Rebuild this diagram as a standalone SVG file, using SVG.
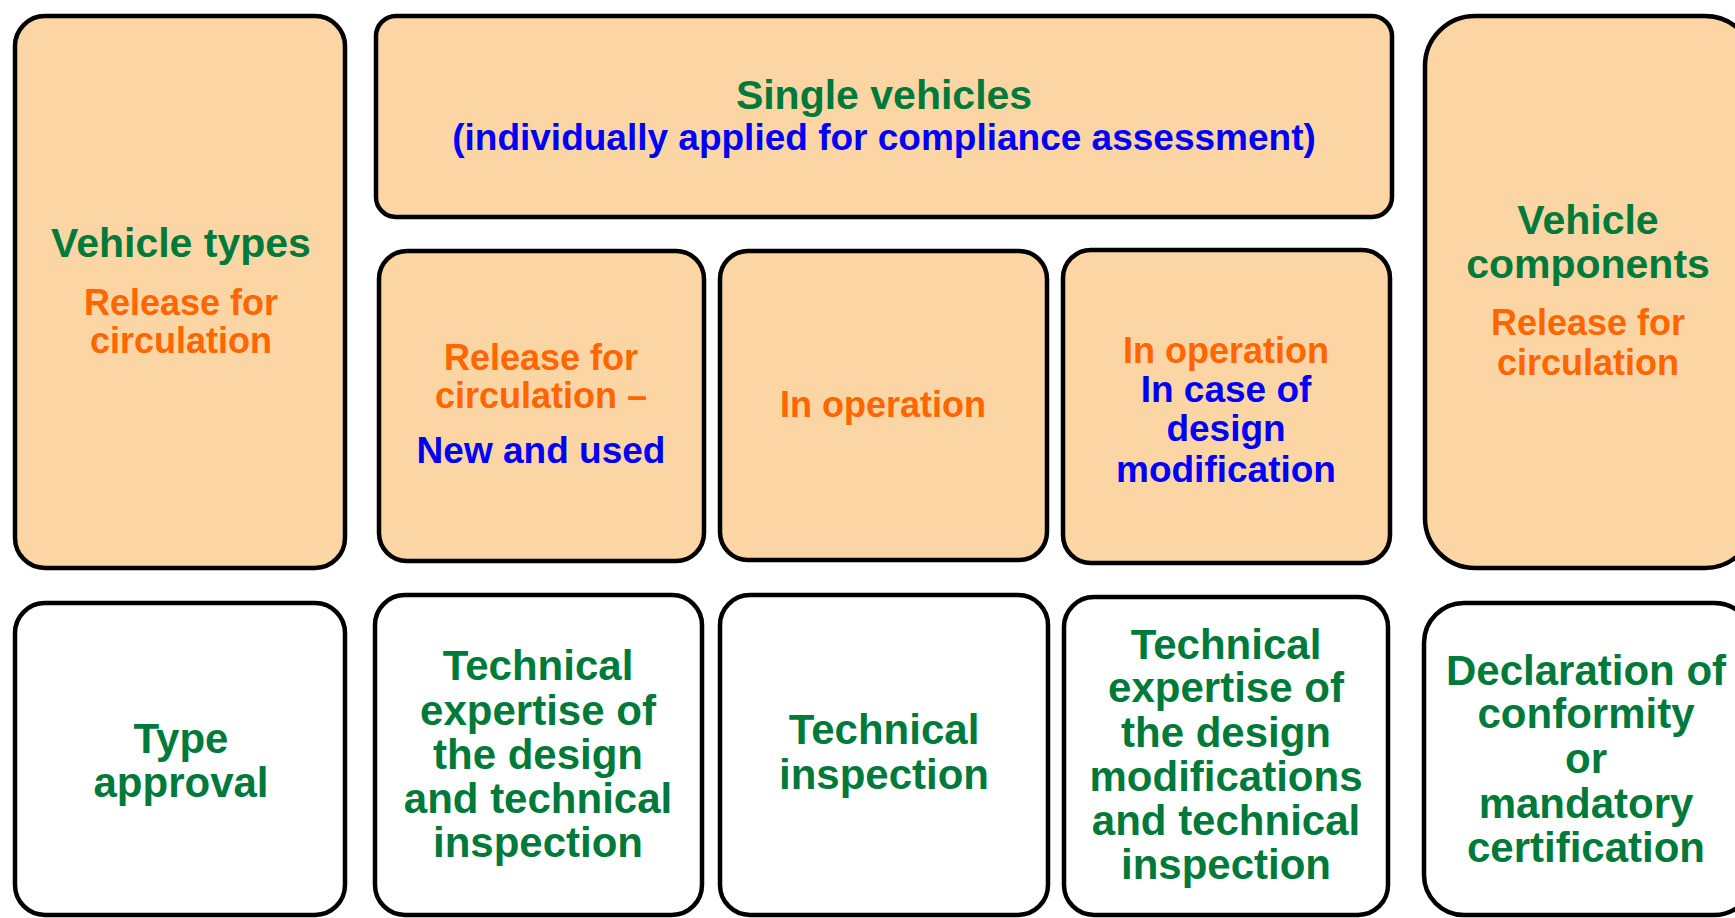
<svg xmlns="http://www.w3.org/2000/svg" width="1735" height="918" viewBox="0 0 1735 918">
<style>
.box{fill:#FCD5A4;stroke:#000;stroke-width:4.5}
.wbox{fill:#fff;stroke:#000;stroke-width:4.5}
text{font-family:"Liberation Sans",Arial,sans-serif;font-weight:bold;text-anchor:middle}
.g{fill:#007A3A;font-size:41px}
.gb{fill:#007A3A;font-size:42px}
.o{fill:#FF6600;font-size:36px}
.b{fill:#0000F5;font-size:37px}
</style>
<rect width="1735" height="918" fill="#fff"/>
<g id="vehicle-types">
<rect class="box" x="15" y="16" width="330" height="552" rx="30"/>
<text class="g" x="181" y="257">Vehicle types</text>
<text class="o" x="181" y="315">Release for</text>
<text class="o" x="181" y="353">circulation</text>
</g>
<g id="single-vehicles">
<rect class="box" x="376" y="16" width="1016" height="201" rx="20"/>
<text class="g" x="884" y="109">Single vehicles</text>
<text class="b" x="884" y="150">(individually applied for compliance assessment)</text>
</g>
<g id="release-new-used">
<rect class="box" x="379" y="251" width="325" height="310" rx="28"/>
<text class="o" x="541" y="370">Release for</text>
<text class="o" x="541" y="408">circulation –</text>
<text class="b" x="541" y="463">New and used</text>
</g>
<g id="in-operation">
<rect class="box" x="720" y="251" width="327" height="309" rx="28"/>
<text class="o" x="883" y="417">In operation</text>
</g>
<g id="in-operation-modification">
<rect class="box" x="1063" y="250" width="327" height="313" rx="28"/>
<text class="o" x="1226" y="363">In operation</text>
<text class="b" x="1226" y="402">In case of</text>
<text class="b" x="1226" y="441">design</text>
<text class="b" x="1226" y="482">modification</text>
</g>
<g id="vehicle-components">
<rect class="box" x="1425" y="16" width="330" height="552" rx="50"/>
<text class="g" x="1588" y="234">Vehicle</text>
<text class="g" x="1588" y="278">components</text>
<text class="o" x="1588" y="335">Release for</text>
<text class="o" x="1588" y="375">circulation</text>
</g>
<g id="type-approval">
<rect class="wbox" x="15" y="603" width="330" height="312" rx="30"/>
<text class="gb" x="181" y="753">Type</text>
<text class="gb" x="181" y="797">approval</text>
</g>
<g id="expertise-inspection">
<rect class="wbox" x="375" y="595" width="327" height="320" rx="30"/>
<text class="gb" x="538" y="680">Technical</text>
<text class="gb" x="538" y="725">expertise of</text>
<text class="gb" x="538" y="769">the design</text>
<text class="gb" x="538" y="813">and technical</text>
<text class="gb" x="538" y="857">inspection</text>
</g>
<g id="technical-inspection">
<rect class="wbox" x="720" y="595" width="328" height="320" rx="30"/>
<text class="gb" x="884" y="744">Technical</text>
<text class="gb" x="884" y="789">inspection</text>
</g>
<g id="modification-expertise">
<rect class="wbox" x="1064" y="597" width="324" height="318" rx="30"/>
<text class="gb" x="1226" y="659">Technical</text>
<text class="gb" x="1226" y="702">expertise of</text>
<text class="gb" x="1226" y="747">the design</text>
<text class="gb" x="1226" y="791">modifications</text>
<text class="gb" x="1226" y="835">and technical</text>
<text class="gb" x="1226" y="879">inspection</text>
</g>
<g id="declaration">
<rect class="wbox" x="1424" y="603" width="330" height="312" rx="40"/>
<text class="gb" x="1586" y="685">Declaration of</text>
<text class="gb" x="1586" y="728">conformity</text>
<text class="gb" x="1586" y="773">or</text>
<text class="gb" x="1586" y="818">mandatory</text>
<text class="gb" x="1586" y="862">certification</text>
</g>
<g id="connectors"></g>
</svg>
